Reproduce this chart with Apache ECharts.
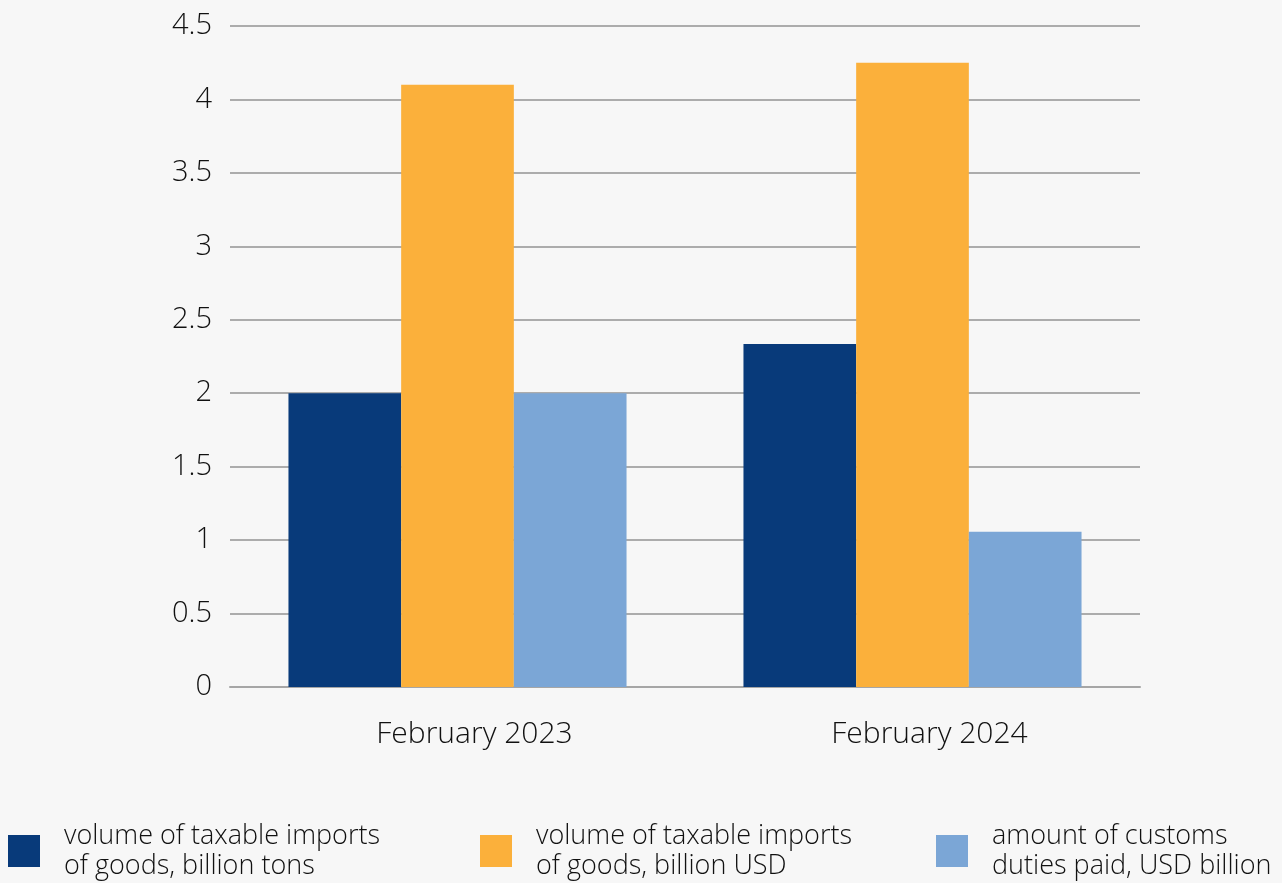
<!DOCTYPE html>
<html>
<head>
<meta charset="utf-8">
<script src="https://cdn.jsdelivr.net/npm/echarts@6/dist/echarts.min.js"></script>
<style>
html,body{margin:0;padding:0;background:#f7f7f7;}
#chart{width:1282px;height:883px;}
</style>
</head>
<body>
<div id="chart"></div>
<script>
const categories = ['February 2023', 'February 2024'];
const seriesNames = [
  'volume of taxable imports\nof goods, billion tons',
  'volume of taxable imports\nof goods, billion USD',
  'amount of customs\nduties paid, USD billion'
];
const tonsValues = [2.0, 2.335];
const usdValues = [4.1, 4.25];
const dutiesValues = [2.0, 1.057];
const yTicks = { min: 0, max: 4.5, interval: 0.5 };
const colors = ['#083a7a', '#fbb03b', '#7ba6d6'];

const FONT = '"Open Sans", sans-serif';
const chart = echarts.init(document.getElementById('chart'));
const legendPos = [8, 480, 936];
const allValues = [tonsValues, usdValues, dutiesValues];

chart.setOption({
  backgroundColor: '#f7f7f7',
  animation: false,
  grid: { left: 230, right: 142, top: 26, bottom: 196 },
  xAxis: {
    type: 'category',
    data: categories,
    axisLine: { lineStyle: { color: '#a6a6a6', width: 2 } },
    axisTick: { show: false },
    axisLabel: { color: '#111', fontSize: 30, fontFamily: FONT, fontWeight: 300, margin: 32, padding: [0, 0, 0, 34] }
  },
  yAxis: {
    type: 'value',
    min: yTicks.min, max: yTicks.max, interval: yTicks.interval,
    axisLine: { show: false },
    axisTick: { show: false },
    splitLine: { lineStyle: { color: '#acacac', width: 2 } },
    axisLabel: { color: '#111', fontSize: 29, fontFamily: FONT, fontWeight: 300, margin: 18, padding: [10, 0, 0, 0] }
  },
  legend: seriesNames.map((n, i) => ({
    data: [n],
    left: legendPos[i],
    top: 821,
    orient: 'horizontal',
    icon: 'rect',
    itemWidth: 32,
    itemHeight: 32,
    itemGap: 0,
    padding: 0,
    selectedMode: false,
    textStyle: { color: '#111', fontSize: 27, fontFamily: FONT, fontWeight: 300, lineHeight: 30, padding: [0, 0, 0, 19] }
  })),
  series: seriesNames.map((n, i) => ({
    name: n,
    type: 'bar',
    data: allValues[i],
    itemStyle: { color: colors[i] },
    barGap: 0,
    barCategoryGap: '25.7%'
  }))
});
</script>
</body>
</html>
